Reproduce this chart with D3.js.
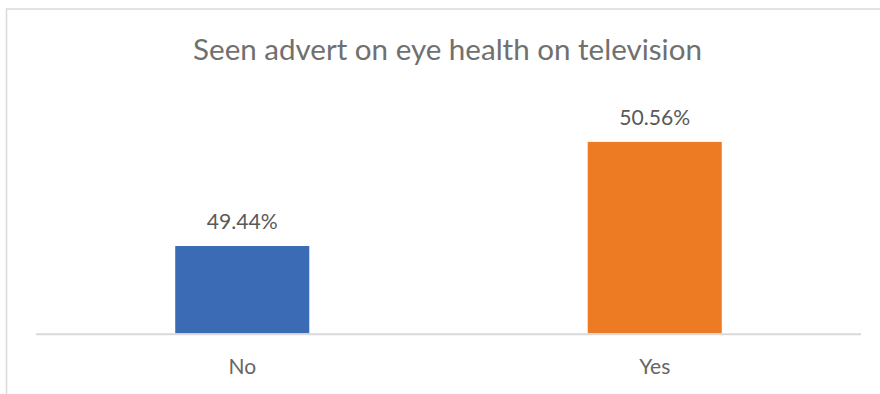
<!DOCTYPE html>
<html>
<head>
<meta charset="utf-8">
<script src="https://cdn.jsdelivr.net/npm/d3@7"></script>
<style>
  html, body { margin: 0; padding: 0; background: #fff; overflow: hidden; }
  svg { display: block; }
  text { font-family: Lato, "Open Sans", sans-serif; font-weight: 400; }
</style>
</head>
<body>
<svg id="chart" width="880" height="394"></svg>
<script>
// Survey answers and their shares (percent)
const categories = ["No", "Yes"];
const values = [49.44, 50.56];
const barColors = ["#3a6bb4", "#ed7b23"];
const title = "Seen advert on eye health on television";
const valueAxisDomain = [48.5, 51];

const svg = d3.select("#chart");

// Chart area frame (left and top edges fall inside the view)
svg.append("path")
  .attr("d", "M6.5,400V9H900")
  .attr("fill", "none")
  .attr("stroke", "#d9d9d9")
  .attr("stroke-width", 1.5);

const plot = { left: 36, right: 861, top: 101, bottom: 333.4 };

const x = d3.scaleBand()
  .domain(categories)
  .range([plot.left, plot.right])
  .paddingInner(0.675)
  .paddingOuter(0.3375);

const y = d3.scaleLinear()
  .domain(valueAxisDomain)
  .range([plot.bottom, plot.top]);

// Fit a text element to a target width by adjusting its font size
function fitWidth(sel, target) {
  const node = sel.node();
  const fs = parseFloat(sel.attr("font-size"));
  const w = node.getComputedTextLength();
  if (w > 0) sel.attr("font-size", (fs * target / w).toFixed(2));
}

// Title
const t = svg.append("text")
  .attr("x", 447.5).attr("y", 60)
  .attr("text-anchor", "middle")
  .attr("font-size", 26)
  .attr("fill", "#707070")
  .text(title);
fitWidth(t, 509);

// Bars
svg.append("g").selectAll("rect")
  .data(values)
  .join("rect")
  .attr("x", (d, i) => x(categories[i]))
  .attr("width", x.bandwidth())
  .attr("y", d => y(d))
  .attr("height", d => y(valueAxisDomain[0]) - y(d))
  .attr("fill", (d, i) => barColors[i]);

// Category axis
const axis = svg.append("g")
  .attr("transform", `translate(0,${plot.bottom + 0.9})`)
  .call(d3.axisBottom(x).tickSize(0).tickPadding(0));
axis.select(".domain")
  .attr("d", `M${plot.left},0H${plot.right}`)
  .attr("stroke", "#d9d9d9")
  .attr("stroke-width", 2);
axis.selectAll(".tick text")
  .attr("y", 39.5)
  .attr("dy", null)
  .attr("font-size", 21)
  .attr("font-family", "Lato, 'Open Sans', sans-serif")
  .attr("fill", "#666666");

// Value labels above each bar
svg.append("g").selectAll("text")
  .data(values)
  .join("text")
  .attr("x", (d, i) => x(categories[i]) + x.bandwidth() / 2)
  .attr("y", d => y(d) - 17)
  .attr("text-anchor", "middle")
  .attr("font-size", 21)
  .attr("fill", "#595959")
  .text(d => d.toFixed(2) + "%")
  .each(function() { fitWidth(d3.select(this), 71); });
</script>
</body>
</html>
